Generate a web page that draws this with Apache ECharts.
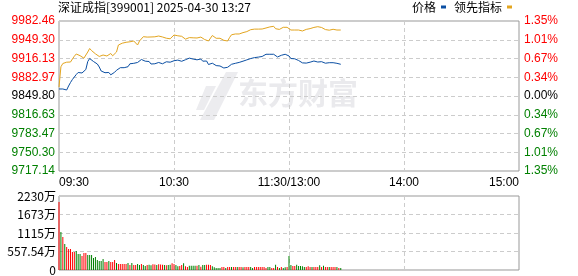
<!DOCTYPE html>
<html><head><meta charset="utf-8">
<script src="https://cdn.jsdelivr.net/npm/echarts@6/dist/echarts.min.js"></script>
<style>html,body{margin:0;padding:0;background:#fff}#c{width:578px;height:276px}</style>
</head><body><div id="c"></div>
<script>
const titleText = "深证成指[399001] 2025-04-30 13:27";
const seriesNames = ["价格", "领先指标"];
const prevClose = 9849.80;
const priceStep = 33.165;
const priceTicks = ["9717.14","9750.30","9783.47","9816.63","9849.80","9882.97","9916.13","9949.30","9982.46"];
const pctTicks = ["1.35%","1.01%","0.67%","0.34%","0.00%","0.34%","0.67%","1.01%","1.35%"];
const volTicks = ["0","557.54万","1115万","1673万","2230万"];
const volMax = 2230.16;
const timeTicks = {0:"09:30", 60:"10:30", 120:"11:30/13:00", 180:"14:00", 240:"15:00"};

const price = [
9862.2,9862.2,9862.2,9861.3,9860.4,9867.5,9873.7,9879.0,9883.4,9887.8,
9891.4,9891.4,9890.5,9892.3,9896.7,9910.8,9916.1,9913.5,9910.8,9908.2,
9906.4,9901.1,9894.0,9891.9,9891.0,9892.3,9891.4,9887.3,9886.1,9891.7,
9895.3,9897.9,9899.9,9899.9,9899.9,9900.6,9901.6,9906.8,9910.1,9907.6,
9907.6,9909.1,9911.7,9914.4,9915.6,9911.4,9911.4,9910.8,9906.4,9905.9,
9906.8,9908.7,9909.1,9909.1,9906.8,9908.2,9910.3,9909.9,9909.6,9913.1,
9912.2,9912.1,9913.3,9912.4,9911.2,9912.6,9914.0,9917.0,9916.8,9915.4,
9915.1,9914.7,9913.8,9914.0,9915.2,9911.4,9911.7,9911.7,9905.5,9908.5,
9907.8,9906.4,9903.6,9902.9,9902.9,9902.0,9899.3,9897.2,9900.6,9903.6,
9905.9,9906.9,9907.6,9908.4,9909.2,9910.1,9911.4,9912.6,9913.7,9914.9,
9916.0,9916.8,9917.7,9918.3,9918.6,9919.0,9919.7,9922.3,9923.6,9923.6,
9923.6,9923.6,9923.6,9920.6,9918.8,9920.2,9921.8,9923.6,9923.6,9923.6,
9920.6,9916.1,9914.9,9915.6,9915.2,9912.6,9910.5,9908.4,9907.8,9908.0,
9908.7,9909.6,9911.0,9911.7,9911.5,9909.9,9909.8,9910.5,9908.9,9907.8,
9908.5,9908.7,9908.7,9908.7,9908.2,9907.6,9906.8,9905.9
];
const lead = [
9865.7,9901.5,9907.3,9909.9,9909.6,9906.8,9909.9,9915.2,9920.2,9924.1,
9924.4,9921.1,9922.3,9916.7,9913.5,9927.6,9933.8,9930.1,9926.7,9924.4,
9922.3,9919.7,9922.7,9922.3,9920.6,9920.6,9921.4,9925.0,9920.9,9922.3,
9927.6,9940.0,9941.8,9943.2,9944.4,9944.8,9944.8,9945.7,9948.3,9947.1,
9944.4,9940.0,9947.1,9949.7,9954.7,9954.2,9954.0,9955.8,9954.2,9953.6,
9954.5,9955.4,9955.9,9955.0,9954.2,9953.8,9952.0,9950.1,9951.0,9952.9,
9957.7,9956.8,9956.3,9955.9,9955.4,9954.3,9950.4,9952.4,9953.1,9952.0,
9952.7,9953.6,9952.4,9952.4,9954.0,9952.4,9949.7,9951.7,9947.1,9949.7,
9956.8,9956.3,9951.9,9951.9,9951.9,9950.1,9948.3,9946.2,9947.1,9953.3,
9958.1,9958.8,9959.5,9959.5,9959.5,9960.7,9961.9,9962.8,9963.7,9965.1,
9967.1,9968.0,9968.1,9968.3,9968.1,9967.8,9968.3,9969.2,9970.1,9971.1,
9972.0,9972.9,9973.1,9968.8,9966.9,9967.6,9969.2,9971.3,9971.3,9971.3,
9969.2,9966.5,9966.5,9966.5,9966.5,9966.5,9965.7,9964.8,9966.2,9967.6,
9968.3,9969.0,9969.7,9971.1,9972.4,9972.4,9972.4,9971.0,9969.4,9967.3,
9965.3,9966.2,9966.9,9967.8,9967.4,9966.5,9966.5,9966.5
];
// volume in 万
const volume = [
2050,1145,995,784,693,633,633,543,543,573,
482,482,422,512,512,452,452,452,362,392,
301,271,271,332,241,241,271,241,241,301,
211,181,181,181,181,181,211,151,211,151,
151,181,151,181,151,121,151,160,140,170,
165,150,170,165,160,150,140,150,160,200,
180,150,110,120,150,200,110,90,130,130,
130,130,130,150,100,150,150,160,160,150,
110,80,60,60,60,90,90,60,90,90,
90,90,90,90,90,90,80,90,90,90,
90,60,90,90,90,90,90,90,60,90,
90,60,60,160,90,60,90,60,80,90,
420,150,120,120,160,120,120,110,90,90,
110,90,90,90,90,90,140,90,130,90,
90,90,90,90,90,90,60,60
];
// 1 = up (red), -1 = down (green)
const volDir = [
1,-1,1,-1,1,1,1,1,1,-1,
-1,-1,1,1,1,-1,-1,-1,-1,-1,
-1,-1,-1,-1,1,1,-1,1,1,1,
-1,1,1,1,1,1,-1,1,-1,1,
1,-1,-1,1,-1,-1,1,-1,-1,1,
1,-1,1,1,1,-1,1,-1,-1,1,
1,-1,-1,1,1,-1,1,1,-1,-1,
-1,-1,1,-1,1,-1,-1,1,1,1,
-1,-1,-1,-1,-1,1,1,-1,1,1,
-1,1,1,-1,1,1,-1,1,1,1,
-1,-1,1,1,1,1,1,1,1,-1,
-1,1,1,-1,1,-1,1,-1,-1,1,
-1,-1,1,1,-1,-1,-1,-1,-1,1,
1,1,-1,1,1,1,-1,1,-1,1,
1,-1,1,1,1,-1,1,-1
];

// trading minutes 09:30-11:30, 13:01-15:00
const times = [];
function pad(n){return (n<10?'0':'')+n;}
for (let t = 9*60+30; t <= 11*60+30; t++) times.push(pad(Math.floor(t/60))+':'+pad(t%60));
for (let t = 13*60+1; t <= 15*60; t++) times.push(pad(Math.floor(t/60))+':'+pad(t%60));

const RED = '#ff0000', GREEN = '#008000', BLUE = '#0b4fa3', GOLD = '#e3a51f';
const toStep = v => +((v - prevClose) / priceStep).toFixed(5);
const font = 'Liberation Sans, Arial, sans-serif';
const cjk = 'Noto Sans CJK SC, sans-serif';
const dash = [4, 3];

const chart = echarts.init(document.getElementById('c'), null, {renderer: 'canvas'});
const lvlColor = i => i > 4 ? RED : (i < 4 ? GREEN : '#000');

chart.setOption({
  animation: false,
  backgroundColor: '#fff',
  title: {text: titleText, left: 58, top: 1, padding: 0, textStyle: {fontSize: 12, fontWeight: 'normal', color: '#000', fontFamily: cjk}},
  legend: {
    data: seriesNames, right: 66, top: 1, padding: 0, align: 'right', icon: 'rect',
    itemWidth: 5, itemHeight: 3, itemGap: 8,
    textStyle: {fontSize: 12, color: '#000', fontFamily: cjk}
  },
  graphic: [
    {type: 'polygon', z: 0, silent: true, shape: {points: [[226,72],[238,72],[214,120],[200,120]]}, style: {fill: '#ececef'}},
    {type: 'polygon', z: 0, silent: true, shape: {points: [[206,86],[216,86],[204,110],[196,110]]}, style: {fill: '#ececef'}},
    {type: 'text', z: 0, silent: true, left: 238, top: 78, style: {text: '东方财富', fill: '#eaeaed', font: 'bold 30px Noto Sans CJK SC'}}
  ],
  grid: [
    {left: 59, right: 59, top: 21, height: 150, show: true, borderColor: '#999', borderWidth: 1},
    {left: 59, right: 59, top: 196, height: 74, show: true, borderColor: '#999', borderWidth: 1}
  ],
  xAxis: [
    {type: 'category', gridIndex: 0, data: times, boundaryGap: false,
     axisLine: {show: false}, axisTick: {show: false},
     axisLabel: {interval: 0, margin: 6, fontSize: 12, color: '#000', fontFamily: font,
       formatter: (v, i) => timeTicks[i] !== undefined ? timeTicks[i] : '',
       alignMinLabel: 'left', alignMaxLabel: 'right'},
     splitLine: {show: true, interval: i => i % 60 === 0 && i > 0 && i < 240, lineStyle: {color: '#ccc', type: dash}}},
    {type: 'category', gridIndex: 1, data: times, boundaryGap: false,
     axisLine: {show: false}, axisTick: {show: false}, axisLabel: {show: false},
     splitLine: {show: true, interval: i => i % 60 === 0 && i > 0 && i < 240, lineStyle: {color: '#ccc', type: dash}}}
  ],
  yAxis: [
    {type: 'value', gridIndex: 0, min: -4, max: 4, interval: 1, position: 'left',
     axisLine: {show: false}, axisTick: {show: false},
     axisLabel: {margin: 4, fontSize: 12, fontFamily: font,
       formatter: v => priceTicks[Math.round(v) + 4],
       color: v => lvlColor(Math.round(v) + 4)},
     splitLine: {show: true, lineStyle: {color: '#ccc', type: dash}}},
    {type: 'value', gridIndex: 0, min: -4, max: 4, interval: 1, position: 'right',
     axisLine: {show: false}, axisTick: {show: false},
     axisLabel: {margin: 5, fontSize: 12, fontFamily: font,
       formatter: v => pctTicks[Math.round(v) + 4],
       color: v => lvlColor(Math.round(v) + 4)},
     splitLine: {show: false}},
    {type: 'value', gridIndex: 1, min: 0, max: volMax, interval: volMax / 4,
     axisLine: {show: false}, axisTick: {show: false},
     axisLabel: {margin: 3, fontSize: 12, color: '#000', fontFamily: cjk,
       formatter: v => volTicks[Math.round(v / (volMax / 4))]},
     splitLine: {show: true, lineStyle: {color: '#ccc', type: dash}}}
  ],
  series: [
    {name: seriesNames[0], type: 'line', xAxisIndex: 0, yAxisIndex: 0, data: price.map(toStep),
     showSymbol: false, symbol: 'none', lineStyle: {width: 1, color: BLUE}, itemStyle: {color: BLUE}, z: 3},
    {name: seriesNames[1], type: 'line', xAxisIndex: 0, yAxisIndex: 0, data: lead.map(toStep),
     showSymbol: false, symbol: 'none', lineStyle: {width: 1, color: GOLD}, itemStyle: {color: GOLD}, z: 3},
    {name: 'vol', type: 'bar', xAxisIndex: 1, yAxisIndex: 2, barWidth: 1,
     data: volume.map((v, i) => ({value: v, itemStyle: {color: volDir[i] > 0 ? RED : GREEN}}))}
  ]
});
</script></body></html>
